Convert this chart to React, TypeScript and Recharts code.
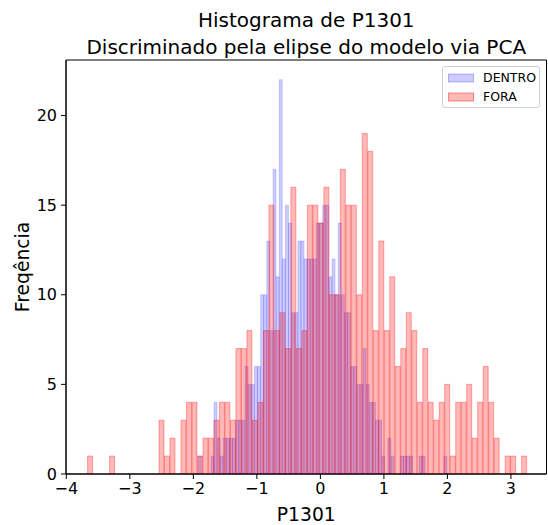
import React from 'react';
import { ComposedChart, Bar, XAxis, YAxis, Legend, ReferenceArea } from 'recharts';

// ---- data ----
const N_BINS = 80;
const FORA_MIN = -3.665;
const FORA_MAX = 3.255;
const DENTRO_MIN = -1.919;
const DENTRO_MAX = 1.993;

const foraCounts = [
  1, 0, 0, 0, 1, 0, 0, 0, 0, 0, 0, 0, 0, 3, 1, 2, 0, 3, 4, 4,
  1, 2, 2, 3, 4, 4, 3, 7, 7, 8, 3, 4, 8, 15, 8, 9, 7, 16, 7, 8,
  15, 15, 14, 16, 10, 10, 17, 15, 15, 10, 19, 18, 8, 13, 8, 11, 6, 7, 9, 8,
  4, 7, 4, 3, 4, 5, 1, 4, 4, 5, 2, 4, 6, 4, 2, 0, 1, 1, 0, 1,
];

const dentroCounts = [
  1, 0, 0, 0, 1, 4, 2, 1, 2, 2, 2, 2, 3, 3, 3, 6, 5, 5, 6, 6,
  10, 10, 13, 8, 17, 11, 22, 12, 15, 14, 9, 9, 13, 13, 12, 12, 12, 12, 14, 14,
  15, 15, 11, 12, 10, 14, 10, 9, 9, 6, 6, 5, 5, 7, 5, 4, 4, 3, 3, 1,
  0, 2, 1, 0, 0, 1, 1, 1, 1, 0, 0, 1, 1, 0, 0, 0, 0, 0, 0, 1,
];

const xTicks = [-4, -3, -2, -1, 0, 1, 2, 3];
const yTicks = [0, 5, 10, 15, 20];
const X_DOMAIN: [number, number] = [-4.005, 3.56];
const Y_MAX = 23.1;

const TITLE_1 = 'Histograma de P1301';
const TITLE_2 = 'Discriminado pela elipse do modelo via PCA';
const X_LABEL = 'P1301';
const Y_LABEL = 'Freqência';

// ---- derived (histogram bin centres) ----
const edges = (lo: number, hi: number) =>
  Array.from({ length: N_BINS + 1 }, (_, i) => lo + ((hi - lo) * i) / N_BINS);
const foraEdges = edges(FORA_MIN, FORA_MAX);
const dentroEdges = edges(DENTRO_MIN, DENTRO_MAX);

const data = foraCounts.map((c, i) => ({
  xf: (foraEdges[i] + foraEdges[i + 1]) / 2,
  FORA: c,
  xd: (dentroEdges[i] + dentroEdges[i + 1]) / 2,
  DENTRO: dentroCounts[i],
}));

const FONT = '"DejaVu Sans", Verdana, sans-serif';

const seriesStyle: Record<string, { fill: string; fillOpacity: number; stroke: string; strokeOpacity: number }> = {
  DENTRO: { fill: '#0000ff', fillOpacity: 0.2, stroke: '#0000ff', strokeOpacity: 0.16 },
  FORA: { fill: '#ff0000', fillOpacity: 0.28, stroke: '#ff0000', strokeOpacity: 0.32 },
};

const fmt = (v: number) => (v < 0 ? `\u2212${Math.abs(v)}` : `${v}`);

const renderLegend = (props: any) => {
  const payload = props.payload || [];
  return (
    <div
      style={{
        boxSizing: 'border-box',
        width: 98,
        height: 42,
        border: '1px solid #d0d0d0',
        borderRadius: 3,
        background: 'rgba(255,255,255,0.8)',
        padding: '2px 0 0 5px',
        fontFamily: FONT,
        fontSize: 12.5,
        color: '#000',
      }}
    >
      {payload.map((entry: any) => {
        const s = seriesStyle[entry.value] || seriesStyle.FORA;
        return (
          <div key={entry.value} style={{ display: 'flex', alignItems: 'center', height: 18.5 }}>
            <svg width={26} height={10} style={{ display: 'block' }}>
              <rect
                x={0.5}
                y={1}
                width={25}
                height={8}
                fill={s.fill}
                fillOpacity={s.fillOpacity}
                stroke={s.stroke}
                strokeOpacity={s.strokeOpacity + 0.1}
              />
            </svg>
            <span style={{ marginLeft: 9, lineHeight: '18px' }}>{entry.value}</span>
          </div>
        );
      })}
    </div>
  );
};

export default function App() {
  return (
    <div style={{ position: 'absolute', left: 0, top: 0, width: 548, height: 525, background: '#fff', fontFamily: FONT }}>
      <div
        style={{
          position: 'absolute',
          left: 66,
          top: 7,
          width: 480.5,
          textAlign: 'center',
          fontFamily: FONT,
          fontSize: 20,
          lineHeight: '27px',
          color: '#000',
          whiteSpace: 'nowrap',
        }}
      >
        <div>{TITLE_1}</div>
        <div>{TITLE_2}</div>
      </div>
      <ComposedChart
        width={548}
        height={525}
        data={data}
        margin={{ top: 60, right: 1.5, bottom: 0, left: 0 }}
        barCategoryGap={0}
        barGap={0}
        style={{ fontFamily: FONT }}
      >
        <XAxis
          xAxisId="f"
          dataKey="xf"
          type="number"
          domain={X_DOMAIN}
          allowDataOverflow
          ticks={xTicks}
          tickFormatter={fmt}
          height={51}
          tickSize={5}
          tickMargin={4}
          axisLine={{ stroke: '#000', strokeWidth: 1 }}
          tickLine={{ stroke: '#000', strokeWidth: 1 }}
          tick={{ fill: '#000', fontSize: 16, fontFamily: FONT }}
          label={{ value: X_LABEL, position: 'insideBottom', offset: 4, fill: '#000', fontSize: 18.7, fontFamily: FONT }}
        />
        <XAxis xAxisId="d" dataKey="xd" type="number" domain={X_DOMAIN} allowDataOverflow hide height={0} />
        <YAxis
          type="number"
          domain={[0, Y_MAX]}
          allowDataOverflow
          ticks={yTicks}
          width={66}
          tickSize={5}
          tickMargin={4}
          axisLine={{ stroke: '#000', strokeWidth: 1 }}
          tickLine={{ stroke: '#000', strokeWidth: 1 }}
          tick={{ fill: '#000', fontSize: 16, fontFamily: FONT }}
          label={{ value: Y_LABEL, angle: -90, position: 'center', dx: -11, fill: '#000', fontSize: 18.7, fontFamily: FONT }}
        />
        <Bar
          xAxisId="d"
          dataKey="DENTRO"
          name="DENTRO"
          isAnimationActive={false}
          {...seriesStyle.DENTRO}
          strokeWidth={1}
        />
        <Bar
          xAxisId="f"
          dataKey="FORA"
          name="FORA"
          isAnimationActive={false}
          {...seriesStyle.FORA}
          strokeWidth={1}
        />
        <ReferenceArea
          xAxisId="f"
          x1={X_DOMAIN[0]}
          x2={X_DOMAIN[1]}
          y1={0}
          y2={Y_MAX}
          fill="none"
          fillOpacity={0}
          stroke="#000"
          strokeWidth={1}
          ifOverflow="visible"
        />
        <Legend
          layout="vertical"
          align="center"
          verticalAlign="middle"
          content={renderLegend}
          wrapperStyle={{ left: 442, top: 66, width: 98, height: 42 }}
        />
      </ComposedChart>
    </div>
  );
}
